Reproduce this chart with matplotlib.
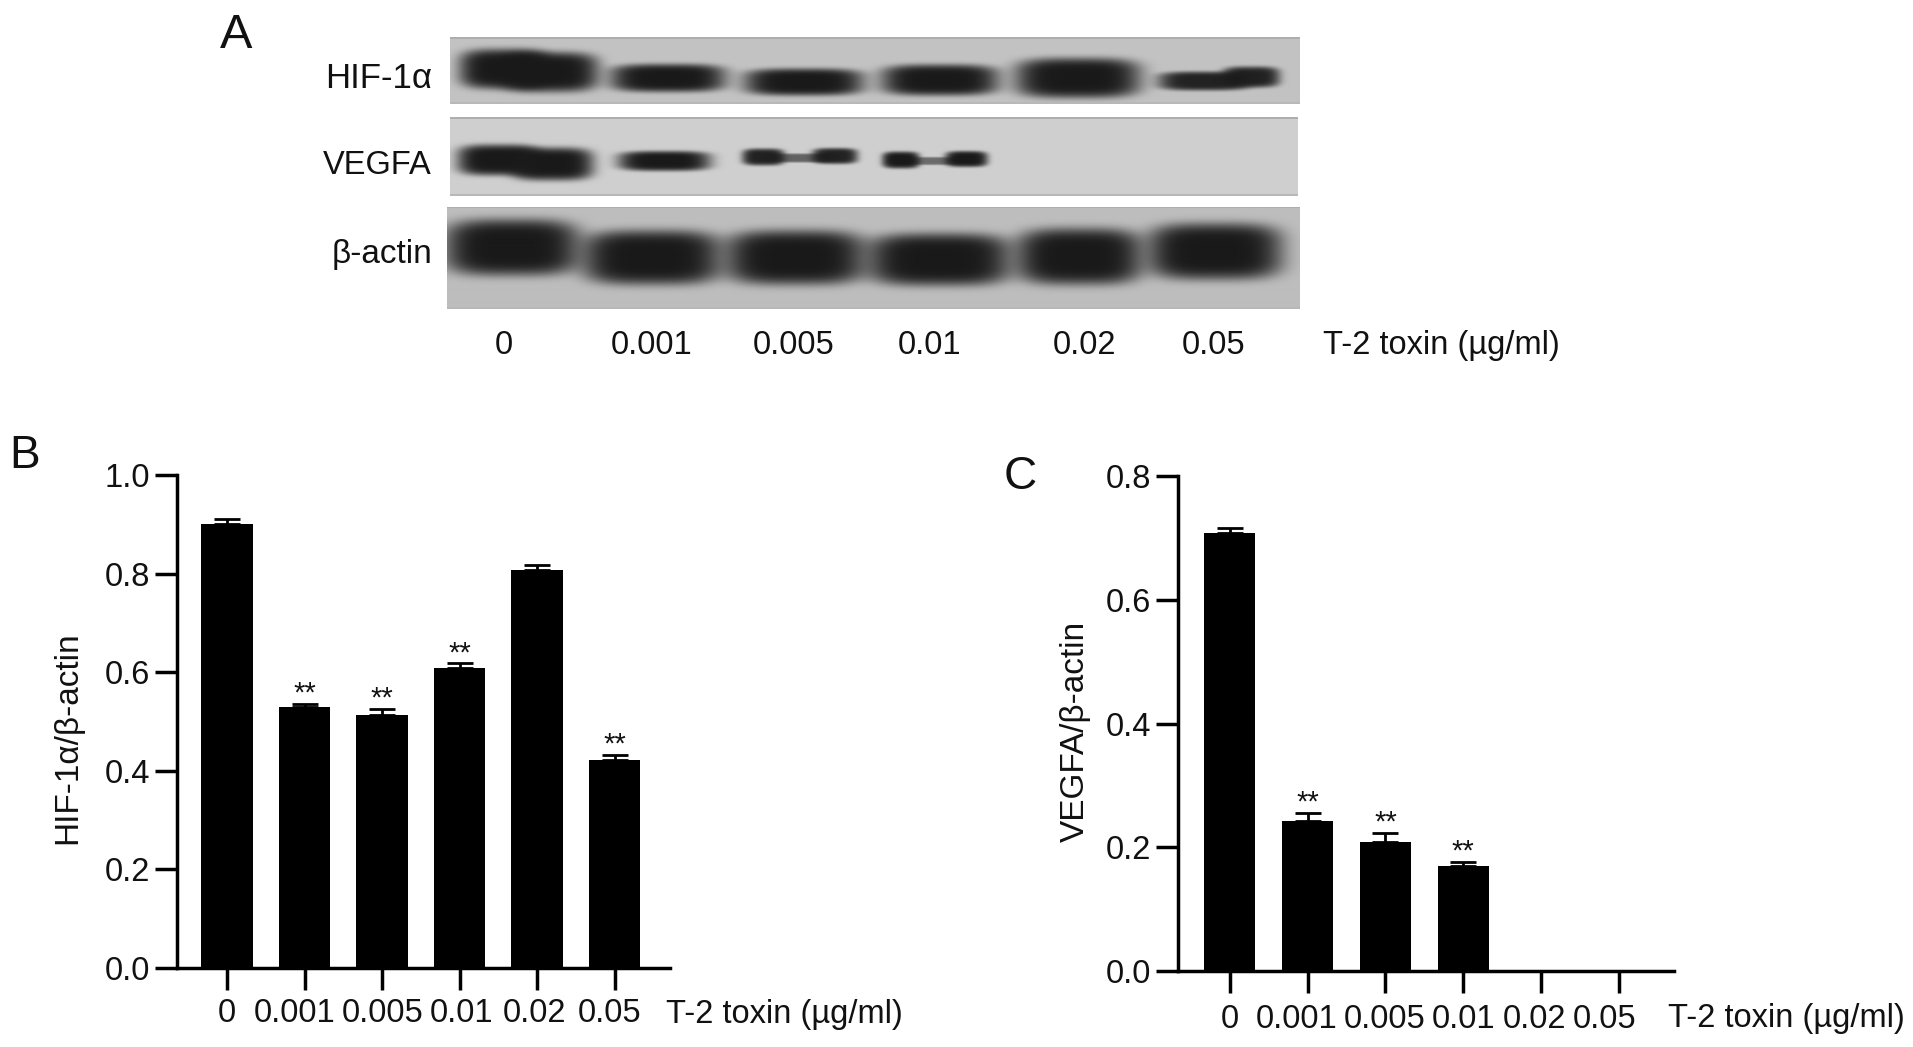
import matplotlib
matplotlib.use("Agg")
import matplotlib.pyplot as plt
import numpy as np

plt.rcParams['font.family'] = ['Liberation Sans', 'DejaVu Sans']

W = 1913
H = 1047

doses = ["0", "0.001", "0.005", "0.01", "0.02", "0.05"]
hif_vals = [0.900, 0.530, 0.513, 0.609, 0.808, 0.421]
hif_err = [0.010, 0.005, 0.012, 0.009, 0.009, 0.011]
hif_stars = [False, True, True, True, False, True]
vegf_vals = [0.708, 0.242, 0.208, 0.170, 0.0, 0.0]
vegf_err = [0.008, 0.013, 0.015, 0.006, 0.0, 0.0]
vegf_stars = [False, True, True, True, False, False]

# blot bands: left, right, centre y, height, strength (full picture pixels)
hif_bands = [(459, 550, 69, 40, 1.0), (500, 599, 72, 40, 1.0), (610, 726, 78, 28, 1.0),
             (744, 864, 82, 27, 1.0), (881, 999, 80, 31, 1.0), (1015, 1141, 78, 40, 1.0),
             (1158, 1250, 81, 19, 0.95), (1222, 1280, 77, 21, 0.95)]
vegf_bands = [(457, 540, 160, 31, 1.0), (510, 594, 164, 33, 1.0), (618, 711, 161, 20, 1.0),
              (742, 785, 157, 17, 0.95), (765, 835, 158, 9, 0.6), (812, 858, 156, 16, 0.95),
              (882, 920, 160, 17, 1.0), (905, 960, 161, 8, 0.55), (945, 988, 159, 16, 1.0)]
actin_bands = [(444, 580, 248, 56, 1.0), (582, 722, 258, 54, 1.0), (725, 866, 258, 54, 1.0),
               (867, 1012, 260, 52, 1.0), (1016, 1143, 257, 56, 1.0), (1147, 1283, 252, 56, 1.0)]

fig = plt.figure(figsize=(W / 100, H / 100), dpi=100, facecolor='white')


def add_px_axes(left, top, right, bottom):
    return fig.add_axes([left / W, 1 - bottom / H, (right - left) / W, (bottom - top) / H])


def px_text(x, y, s, **kw):
    fig.text(x / W, 1 - y / H, s, **kw)


def draw_blot(left, top, right, bottom, bands, bg):
    ax = add_px_axes(left, top, right, bottom)
    xs = np.arange(left, right) + 0.5
    ys = np.arange(top, bottom) + 0.5
    xx, yy = np.meshgrid(xs, ys)
    light = np.ones(xx.shape)
    for x0, x1, yc, h, s in bands:
        u = np.abs(xx - (x0 + x1) / 2) / ((x1 - x0) / 2)
        v = np.abs(yy - yc) / (h / 2)
        # rounded band with a soft edge, overlaps merge without a seam
        r = u ** 3.5 + v ** 3.5
        light = light * (1 - s * np.exp(-r ** 1.6))
    img = bg - (bg - 0.1) * (1 - light)
    # lighter rim of the scanned strip
    img[:2, :] = 0.68
    img[-2:, :] = 0.72
    ax.imshow(img, cmap='gray', vmin=0, vmax=1, aspect='auto',
              extent=[left, right, bottom, top], interpolation='bilinear')
    ax.axis('off')


draw_blot(450, 37, 1300, 104, hif_bands, 0.76)
draw_blot(450, 117, 1298, 196, vegf_bands, 0.81)
draw_blot(447, 207, 1300, 309, actin_bands, 0.74)

for y, s, fs in zip([79, 166, 254], ["HIF-1\u03b1", "VEGFA", "\u03b2-actin"], [25, 23.5, 24]):
    px_text(432, y, s, fontsize=fs, ha='right', va='center', color='#111111')

a_label_x = [504, 652, 794, 930, 1085, 1214]
for x, s in zip(a_label_x, doses):
    px_text(x, 346, s, fontsize=23.5, ha='center', va='center', color='#111111')
px_text(1323, 346, "T-2 toxin (\u00b5g/ml)", fontsize=23.5, ha='left', va='center', color='#111111')

px_text(236, 35, "A", fontsize=35, ha='center', va='center', color='#111111')
px_text(25, 456, "B", fontsize=33, ha='center', va='center', color='#111111')
px_text(1020, 477, "C", fontsize=33, ha='center', va='center', color='#111111')


def draw_bars(box, first_x, step, vals, err, stars, ymax, yticks, ylabel, label_x, label_y, unit_x, ylabel_x, ylabel_y):
    left, top, right, bottom = box
    ax = add_px_axes(left, top, right, bottom)
    x = np.arange(len(vals))
    ax.bar(x, vals, width=51.6 / step, color='black', zorder=2)
    ax.errorbar(x, vals, yerr=[np.zeros(len(err)), err], fmt='none', ecolor='black',
                elinewidth=2, capsize=9.5, capthick=2, zorder=1)
    for i, star in enumerate(stars):
        if star:
            ax.annotate("**", (i, vals[i] + err[i]), xytext=(0, 1.6), textcoords='offset points',
                        ha='center', va='baseline', fontsize=21, color='#111111')
    ax.set_xlim((left - first_x) / step, (right - first_x) / step)
    ax.set_ylim(0, ymax)
    ax.set_xticks(x)
    ax.set_xticklabels([])
    ax.set_yticks(yticks)
    ax.set_yticklabels(["%.1f" % t for t in yticks])
    ax.tick_params(axis='both', width=2.5, length=15.5, labelsize=23.5, color='black',
                   labelcolor='#111111')
    ax.tick_params(axis='y', pad=4)
    for side in ['top', 'right']:
        ax.spines[side].set_visible(False)
    for side in ['left', 'bottom']:
        ax.spines[side].set_linewidth(2.5)
    for px, s in zip(label_x, doses):
        px_text(px, label_y, s, fontsize=23.5, ha='center', va='center', color='#111111')
    px_text(unit_x, label_y, "T-2 toxin (\u00b5g/ml)", fontsize=23.5, ha='left', va='center', color='#111111')
    px_text(ylabel_x, ylabel_y, ylabel, fontsize=24, rotation=90, ha='center', va='center',
            color='#111111')


draw_bars((177, 475, 670, 968), 227, 77.5, hif_vals, hif_err, hif_stars, 1.0,
          [0.0, 0.2, 0.4, 0.6, 0.8, 1.0], "HIF-1\u03b1/\u03b2-actin",
          [227, 295, 383, 462, 534, 610], 1014, 666, 68, 738)
draw_bars((1178, 476, 1674, 971), 1229.6, 77.9, vegf_vals, vegf_err, vegf_stars, 0.8,
          [0.0, 0.2, 0.4, 0.6, 0.8], "VEGFA/\u03b2-actin",
          [1230, 1297, 1385, 1464, 1534, 1605], 1019, 1668, 1075, 731)

fig.savefig("out.png", dpi=100, facecolor='white')
